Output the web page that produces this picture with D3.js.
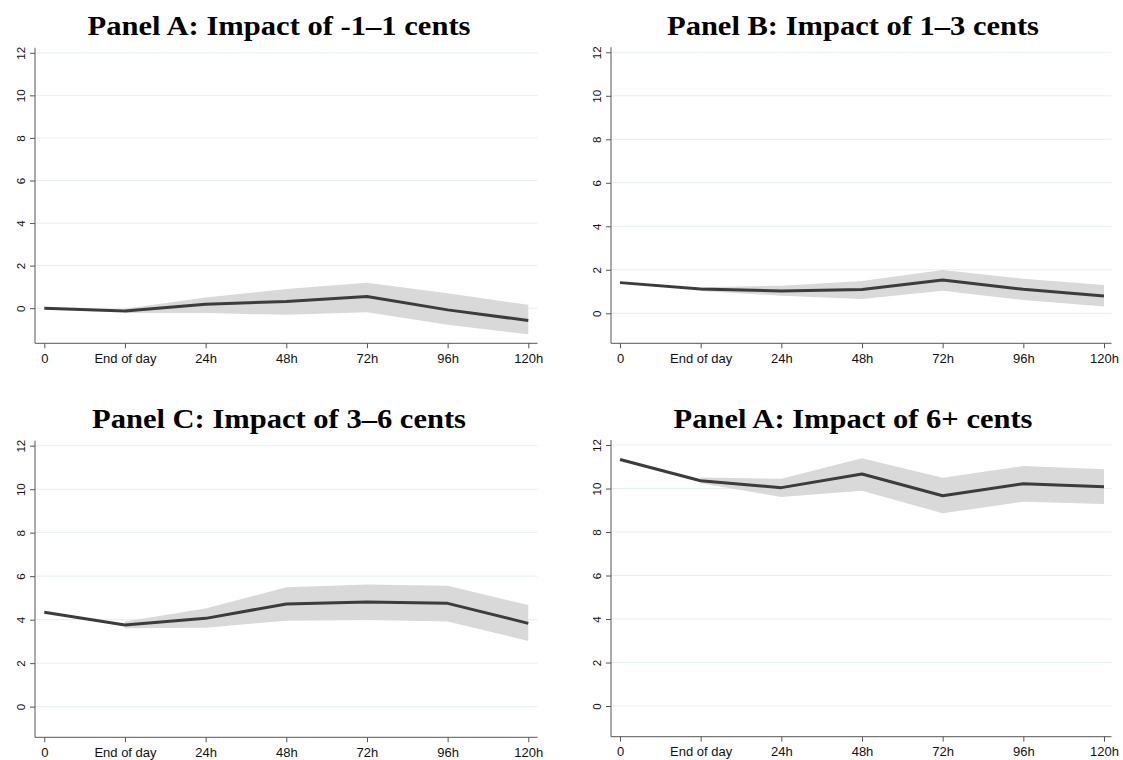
<!DOCTYPE html>
<html>
<head>
<meta charset="utf-8">
<script src="https://cdn.jsdelivr.net/npm/d3@7"></script>
<style>
  body { margin: 0; background: #fff; }
  svg { display: block; }
</style>
</head>
<body>
<script>
// horizon labels shared by every panel
var horizons = ["0", "End of day", "24h", "48h", "72h", "96h", "120h"];
var yTicks = [0, 2, 4, 6, 8, 10, 12];

var titles = [
  "Panel A: Impact of -1\u20131 cents",
  "Panel B: Impact of 1\u20133 cents",
  "Panel C: Impact of 3\u20136 cents",
  "Panel A: Impact of 6+ cents"
];

// point estimates
var estA = [0, -0.13, 0.19, 0.31, 0.55, -0.08, -0.58];
var estB = [1.41, 1.12, 1.03, 1.09, 1.53, 1.10, 0.80];
var estC = [4.34, 3.75, 4.06, 4.72, 4.81, 4.75, 3.83];
var estD = [11.33, 10.36, 10.04, 10.67, 9.67, 10.22, 10.08];

// confidence band (no band at horizon 0)
var hiA = [null, -0.03, 0.50, 0.90, 1.20, 0.70, 0.16];
var loA = [null, -0.23, -0.23, -0.31, -0.19, -0.78, -1.23];
var hiB = [null, 1.20, 1.27, 1.49, 1.99, 1.59, 1.30];
var loB = [null, 1.03, 0.81, 0.66, 1.04, 0.61, 0.31];
var hiC = [null, 3.91, 4.51, 5.49, 5.62, 5.56, 4.67];
var loC = [null, 3.60, 3.63, 3.95, 3.98, 3.92, 3.02];
var hiD = [null, 10.51, 10.45, 11.39, 10.50, 11.03, 10.88];
var loD = [null, 10.24, 9.61, 9.90, 8.86, 9.39, 9.29];

var W = 1123, H = 760;

var svg = d3.select("body").append("svg")
    .attr("width", W)
    .attr("height", H);

// panel placement
var panels = [
  {est: estA, hi: hiA, lo: loA, axisX: 35, x0: 44.3, x6: 528.3, right: 537.5, y12: 52.8, axisY: 343.3, yMin: -1.65, titleY: 35, titleX: 279, titleW: 383},
  {est: estB, hi: hiB, lo: loB, axisX: 611, x0: 620, x6: 1104, right: 1111.5, y12: 52.3, axisY: 343.3, yMin: -1.38, titleY: 35, titleX: 853, titleW: 372},
  {est: estC, hi: hiC, lo: loC, axisX: 35, x0: 44.3, x6: 528.3, right: 537.5, y12: 445.7, axisY: 737.3, yMin: -1.41, titleY: 428.3, titleX: 279, titleW: 374},
  {est: estD, hi: hiD, lo: loD, axisX: 611, x0: 620, x6: 1104, right: 1111.5, y12: 445, axisY: 736.7, yMin: -1.41, titleY: 428.3, titleX: 853, titleW: 359}
];

panels.forEach(function(p, i) {
  var g = svg.append("g");

  var x = d3.scalePoint().domain(horizons).range([p.x0, p.x6]);
  var y = d3.scaleLinear().domain([p.yMin, 12]).range([p.axisY, p.y12]);

  var rows = horizons.map(function(h, j) {
    return {h: h, v: p.est[j], hi: p.hi[j], lo: p.lo[j]};
  });

  // grid
  g.selectAll(".grid")
    .data(yTicks)
    .enter().append("line")
    .attr("x1", p.axisX).attr("x2", p.right)
    .attr("y1", function(d) { return y(d); })
    .attr("y2", function(d) { return y(d); })
    .attr("stroke", "#e4eef1")
    .attr("stroke-width", 1);

  // band
  var band = d3.area()
    .defined(function(d) { return d.hi != null; })
    .x(function(d) { return x(d.h); })
    .y0(function(d) { return y(d.lo); })
    .y1(function(d) { return y(d.hi); });

  g.append("path")
    .datum(rows)
    .attr("d", band)
    .attr("fill", "#d9d9d9");

  // estimate line
  var line = d3.line()
    .x(function(d) { return x(d.h); })
    .y(function(d) { return y(d.v); });

  g.append("path")
    .datum(rows)
    .attr("d", line)
    .attr("fill", "none")
    .attr("stroke", "#3c3c3c")
    .attr("stroke-width", 3)
    .attr("stroke-linejoin", "round");

  // y axis
  var ya = g.append("g")
    .attr("transform", "translate(" + p.axisX + ",0)")
    .call(d3.axisLeft(y).tickValues(yTicks).tickSize(5).tickPadding(4).tickSizeOuter(0));
  ya.select(".domain").remove();
  ya.append("line")
    .attr("y1", y(12) - 5).attr("y2", p.axisY)
    .attr("stroke", "#555");
  ya.selectAll(".tick line").attr("stroke", "#555");
  ya.selectAll(".tick text")
    .attr("transform", "rotate(-90)")
    .attr("x", 0)
    .attr("y", -10)
    .attr("dy", 0)
    .attr("text-anchor", "middle")
    .style("font-family", "Liberation Sans, Arial, sans-serif")
    .style("font-size", "11.5px")
    .attr("fill", "#111");

  // x axis
  var xa = g.append("g")
    .attr("transform", "translate(0," + p.axisY + ")")
    .call(d3.axisBottom(x).tickSize(5).tickPadding(5).tickSizeOuter(0));
  xa.select(".domain").remove();
  xa.append("line")
    .attr("x1", p.axisX).attr("x2", p.right)
    .attr("stroke", "#555");
  xa.selectAll(".tick line").attr("stroke", "#555");
  xa.selectAll(".tick text")
    .style("font-family", "Liberation Sans, Arial, sans-serif")
    .style("font-size", "13px")
    .attr("fill", "#111");

  // title
  g.append("text")
    .attr("x", p.titleX)
    .attr("y", p.titleY)
    .attr("text-anchor", "middle")
    .attr("textLength", p.titleW)
    .attr("lengthAdjust", "spacingAndGlyphs")
    .style("font-family", "Liberation Serif, serif")
    .style("font-weight", "bold")
    .style("font-size", "28px")
    .text(titles[i]);
});
</script>
</body>
</html>
